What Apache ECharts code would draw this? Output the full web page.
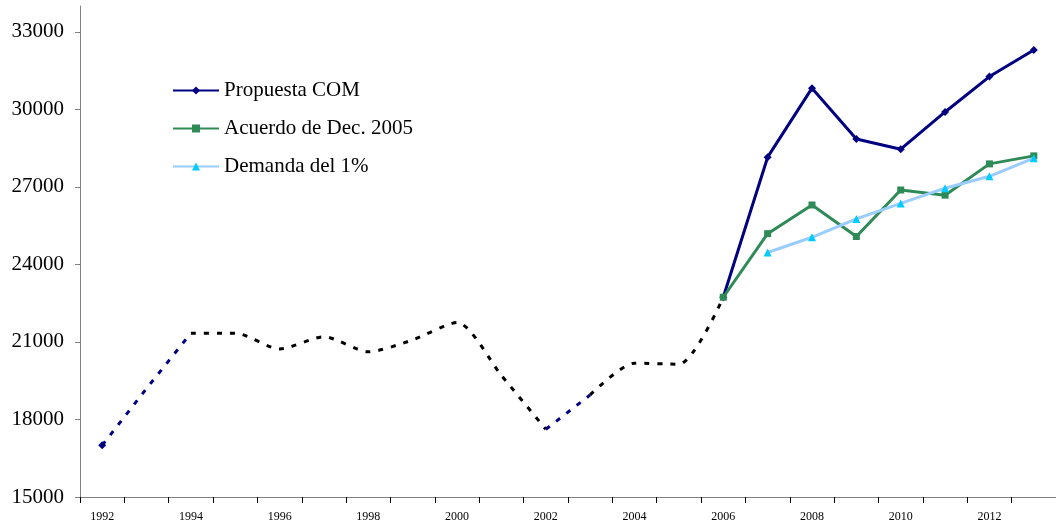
<!DOCTYPE html>
<html>
<head>
<meta charset="utf-8">
<script src="https://cdn.jsdelivr.net/npm/echarts@6/dist/echarts.min.js"></script>
<style>
  html, body { margin: 0; padding: 0; background: #fff; }
  #chart { width: 1056px; height: 527px; }
</style>
</head>
<body>
<div id="chart"></div>
<script>
const years = ['1992', '1993', '1994', '1995', '1996', '1997', '1998', '1999', '2000', '2001', '2002',
               '2003', '2004', '2005', '2006', '2007', '2008', '2009', '2010', '2011', '2012', '2013'];

// historical values (dotted line), 1992-2006
const historico = [17000, 19200, 21340, 21340, 20730, 21200, 20620, 21080, 21750, 19700, 17620,
                   18950, 20180, 20140, 22730];

// projections 2006-2013
const propuestaCOM = [22730, 28150, 30820, 28850, 28460, 29900, 31270, 32300];
const acuerdo2005 = [22730, 25190, 26300, 25080, 26880, 26680, 27890, 28200];
const demanda1 = [null, 24460, 25050, 25760, 26360, 26950, 27410, 28110];

const yTicks = [15000, 18000, 21000, 24000, 27000, 30000, 33000];

const font = 'Liberation Serif';

// helpers to place a slice of the history on the full category axis
function slice(from, to) {
    return years.map((y, i) => (i >= from && i <= to && i < historico.length) ? historico[i] : null);
}
function future(values) {
    const start = years.indexOf('2006');
    return years.map((y, i) => i >= start ? values[i - start] : null);
}

const navyDots = slice(0, 2).map((v, i) => (i === 10 || i === 11) ? historico[i] : v);
navyDots[0] = {value: historico[0], symbol: 'diamond', symbolSize: 8};

const dotted = {type: [5, 8], width: 3};

const chart = echarts.init(document.getElementById('chart'));

const option = {
    backgroundColor: '#fff',
    animation: false,
    grid: {left: 80, top: 6, width: 981, bottom: 30},
    legend: {
        data: ['Propuesta COM', 'Acuerdo de Dec. 2005', 'Demanda del 1%'],
        orient: 'vertical',
        left: 167,
        top: 75,
        itemGap: 17,
        itemWidth: 46,
        itemHeight: 10,
        textStyle: {fontFamily: font, fontSize: 21, color: '#000'}
    },
    xAxis: {
        type: 'category',
        data: years,
        boundaryGap: true,
        axisLine: {lineStyle: {color: '#808080', width: 1}},
        axisTick: {show: true, interval: 0, length: 6, lineStyle: {color: '#000'}},
        axisLabel: {interval: 1, fontFamily: font, fontSize: 12, color: '#000', margin: 14},
        splitLine: {show: false}
    },
    yAxis: {
        type: 'value',
        min: 15000,
        max: 34000,
        interval: 3000,
        axisLine: {show: true, lineStyle: {color: '#808080', width: 1}},
        axisTick: {show: true, length: 5, customValues: yTicks, lineStyle: {color: '#808080'}},
        axisLabel: {
            customValues: yTicks, fontFamily: font, fontSize: 21, color: '#000', margin: 16,
            formatter: v => String(v)
        },
        splitLine: {show: false}
    },
    series: [
        {
            name: 'hist1', type: 'line', data: slice(2, 10), smooth: 0.25,
            symbol: 'none', lineStyle: Object.assign({color: '#000'}, dotted), z: 1
        },
        {
            name: 'hist2', type: 'line', data: slice(11, 14), smooth: 0.25,
            symbol: 'none', lineStyle: Object.assign({color: '#000'}, dotted), z: 1
        },
        {
            name: 'hist3', type: 'line', data: navyDots,
            symbol: 'none', itemStyle: {color: '#000080'},
            lineStyle: Object.assign({color: '#000080'}, dotted), z: 1
        },
        {
            name: 'Propuesta COM', type: 'line', data: future(propuestaCOM),
            symbol: 'diamond', symbolSize: 8,
            itemStyle: {color: '#000080'}, lineStyle: {color: '#000080', width: 3}, z: 2
        },
        {
            name: 'Acuerdo de Dec. 2005', type: 'line', data: future(acuerdo2005),
            symbol: 'rect', symbolSize: 7,
            itemStyle: {color: '#2E8B57'}, lineStyle: {color: '#2E8B57', width: 3}, z: 3
        },
        {
            name: 'Demanda del 1%', type: 'line', data: future(demanda1),
            symbol: 'triangle', symbolSize: 8,
            itemStyle: {color: '#00CCFF'}, lineStyle: {color: '#99CCFF', width: 3}, z: 4
        }
    ]
};

chart.setOption(option);
</script>
</body>
</html>
